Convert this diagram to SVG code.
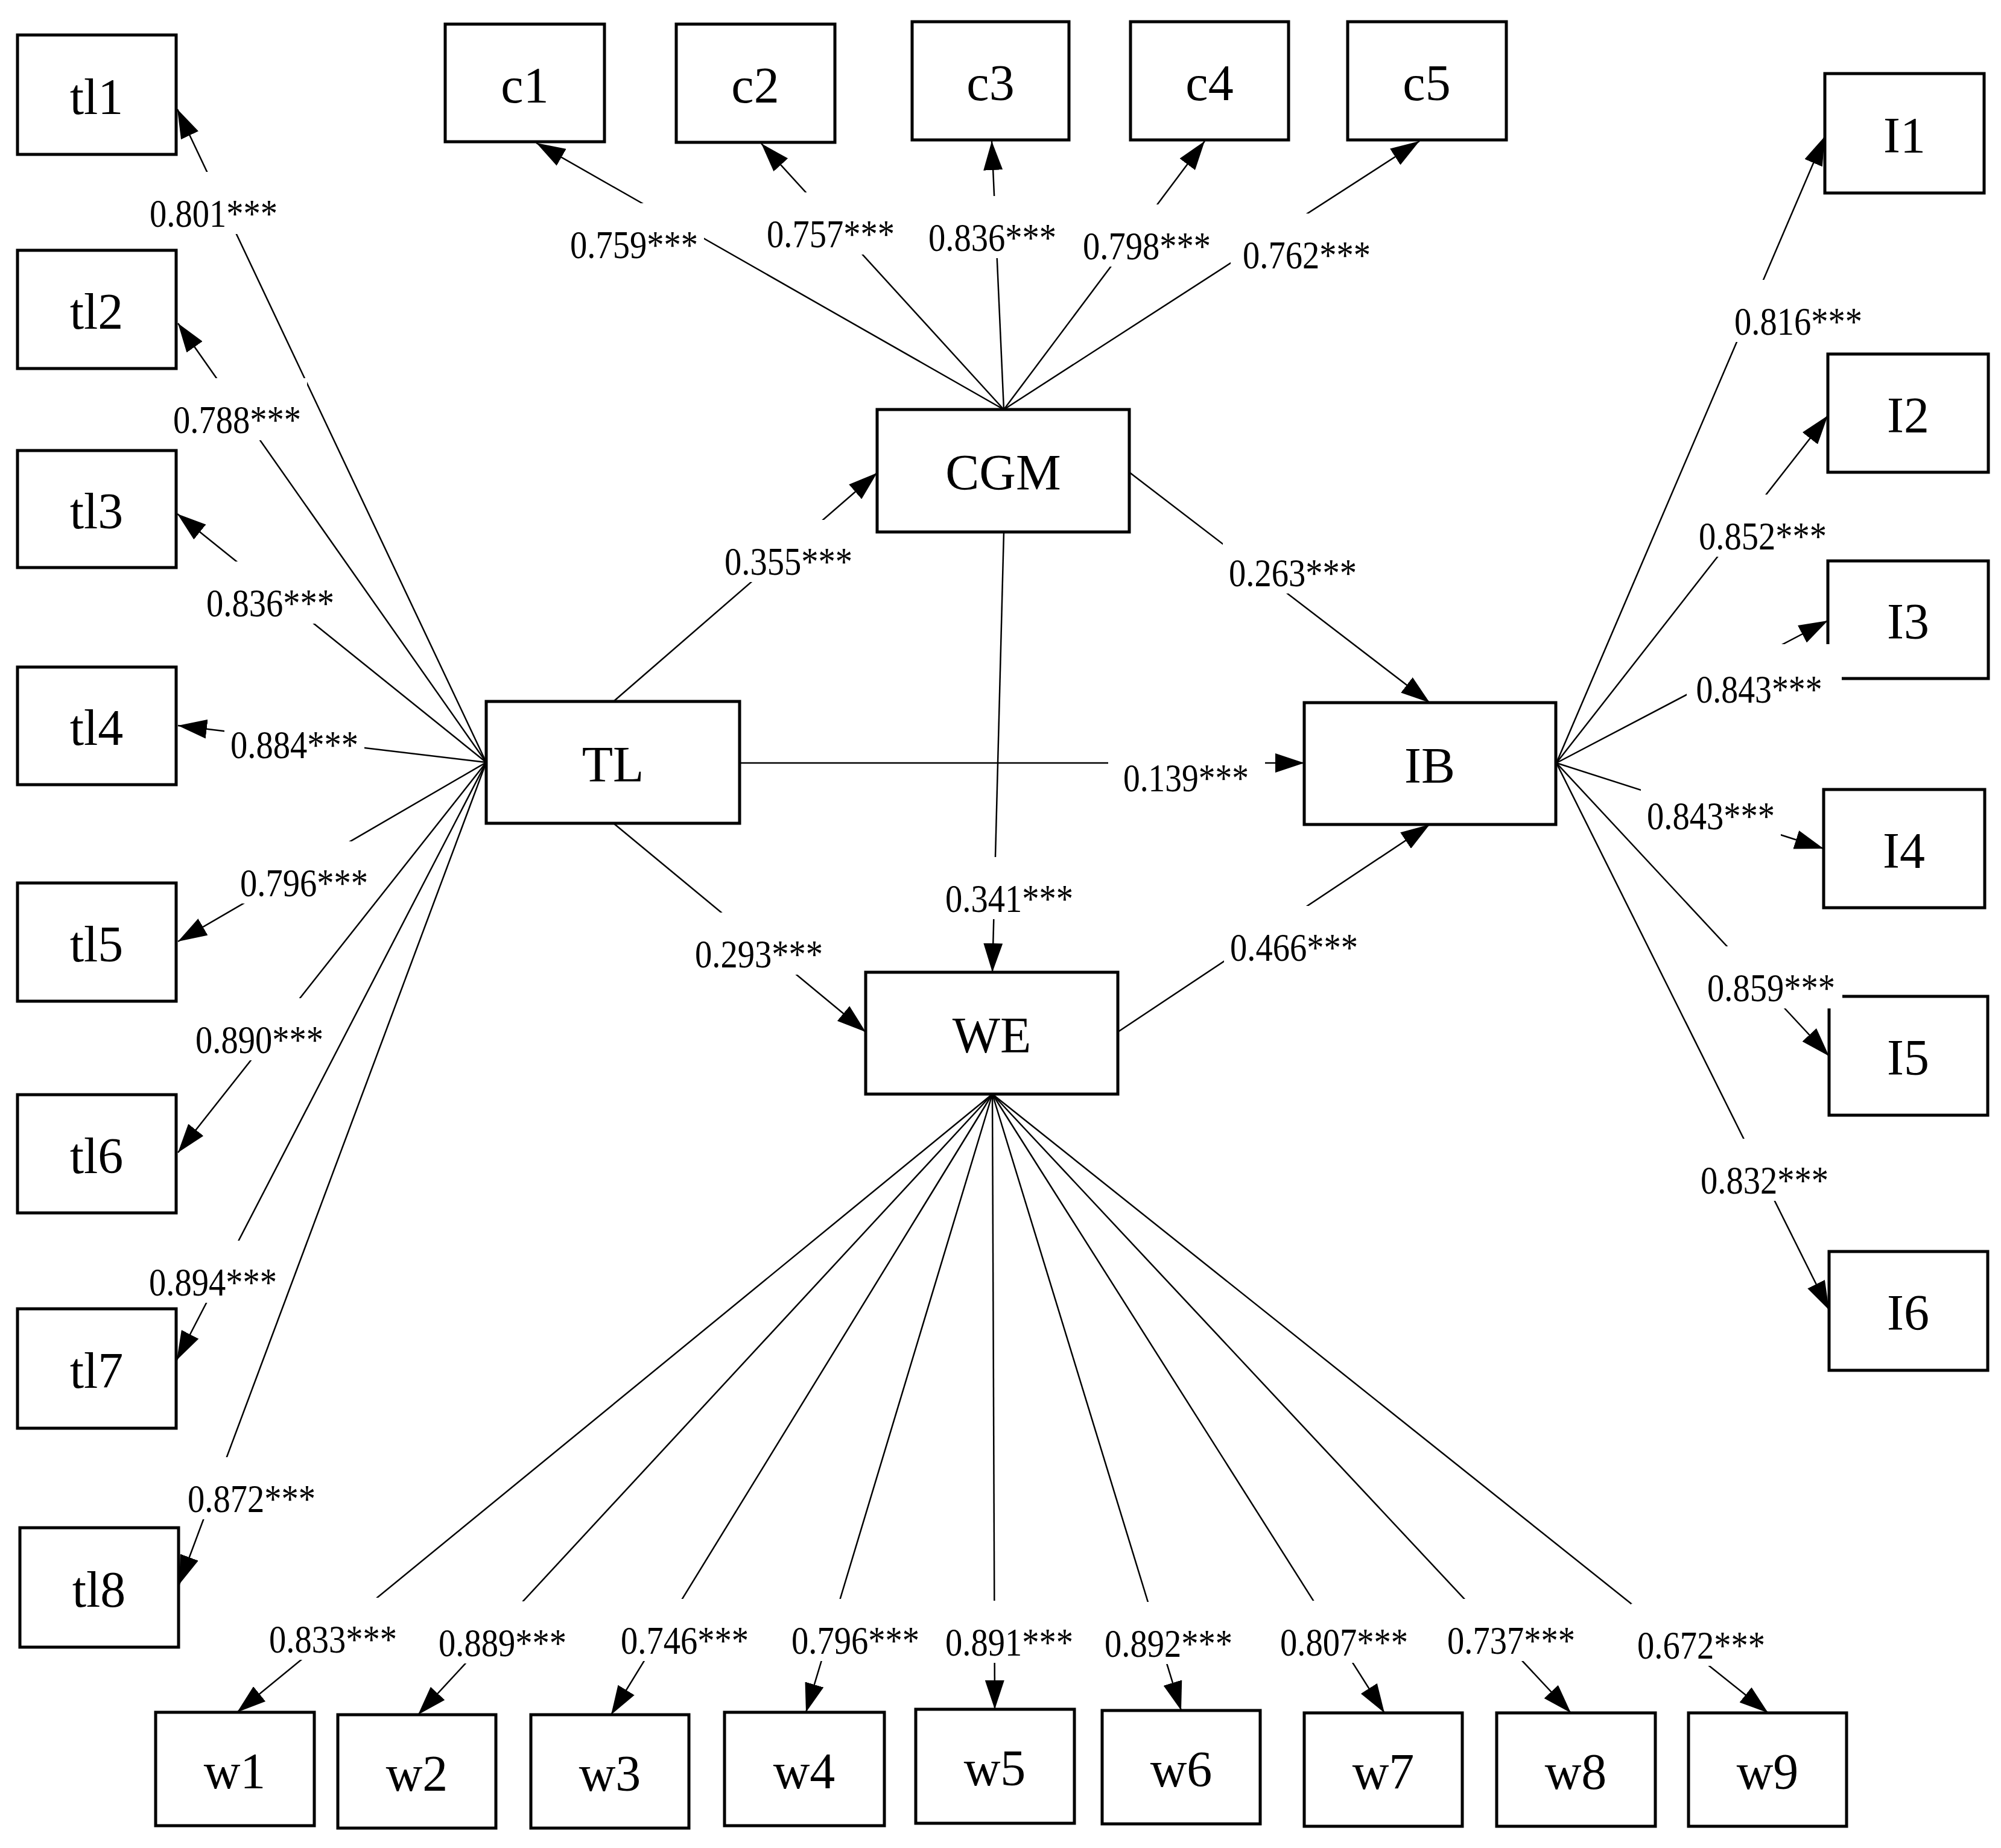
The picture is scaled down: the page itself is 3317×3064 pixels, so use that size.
<svg xmlns="http://www.w3.org/2000/svg" width="3317" height="3064" viewBox="0 0 3317 3064">
<style>
.node rect{fill:#fff;stroke:#000;stroke-width:5}
.node text{font-family:"Liberation Serif","Times New Roman",serif;font-size:84px;text-anchor:middle;fill:#000}
.edge{fill:none;stroke:#000;stroke-width:2.5;marker-end:url(#ah)}
.lbl rect{fill:#fff;stroke:none}
.lbl text{font-family:"Liberation Serif","Times New Roman",serif;font-size:65px;text-anchor:middle;fill:#000}
</style>
<defs>
<marker id="ah" markerUnits="userSpaceOnUse" markerWidth="48" markerHeight="32" refX="48" refY="16" orient="auto" viewBox="0 0 48 32">
<path d="M0,0 L48,16 L0,32 z" fill="#000"/>
</marker>
</defs>
<rect x="0" y="0" width="3317" height="3064" fill="#fff"/>
<g id="connectors">
<path class="edge" d="M806,1264 L294,181"/>
<path class="edge" d="M806,1264 L295,536"/>
<path class="edge" d="M806,1264 L294,852"/>
<path class="edge" d="M806,1264 L295,1203"/>
<path class="edge" d="M806,1264 L295,1561"/>
<path class="edge" d="M806,1264 L295,1911"/>
<path class="edge" d="M806,1264 L293,2255"/>
<path class="edge" d="M806,1264 L297,2627"/>
<path class="edge" d="M1664,679 L889,237"/>
<path class="edge" d="M1664,679 L1262,238"/>
<path class="edge" d="M1664,679 L1644,234"/>
<path class="edge" d="M1664,679 L1997,234"/>
<path class="edge" d="M1664,679 L2353,234"/>
<path class="edge" d="M2580,1265 L3025,226"/>
<path class="edge" d="M2580,1265 L3030,689"/>
<path class="edge" d="M2580,1265 L3030,1029"/>
<path class="edge" d="M2580,1265 L3023,1407"/>
<path class="edge" d="M2580,1265 L3032,1751"/>
<path class="edge" d="M2580,1265 L3032,2172"/>
<path class="edge" d="M1645,1814 L393,2839"/>
<path class="edge" d="M1645,1814 L693,2843"/>
<path class="edge" d="M1645,1814 L1013,2843"/>
<path class="edge" d="M1645,1814 L1336,2839"/>
<path class="edge" d="M1645,1814 L1649,2834"/>
<path class="edge" d="M1645,1814 L1958,2836"/>
<path class="edge" d="M1645,1814 L2295,2840"/>
<path class="edge" d="M1645,1814 L2604,2840"/>
<path class="edge" d="M1645,1814 L2931,2840"/>
<path class="edge" d="M1017,1163 L1454,784"/>
<path class="edge" d="M1872,783 L2370,1165"/>
<path class="edge" d="M1664,882 L1645,1612"/>
<path class="edge" d="M1226,1265 L2162,1265"/>
<path class="edge" d="M1017,1365 L1435,1711"/>
<path class="edge" d="M1853,1711 L2370,1367"/>
</g>
<g id="tl1" class="node"><rect x="29" y="58" width="263" height="198"/><text x="160" y="189">tl1</text></g>
<g id="tl2" class="node"><rect x="29" y="415" width="263" height="196"/><text x="160" y="545">tl2</text></g>
<g id="tl3" class="node"><rect x="29" y="747" width="263" height="194"/><text x="160" y="876">tl3</text></g>
<g id="tl4" class="node"><rect x="29" y="1106" width="263" height="195"/><text x="160" y="1235">tl4</text></g>
<g id="tl5" class="node"><rect x="29" y="1464" width="263" height="196"/><text x="160" y="1594">tl5</text></g>
<g id="tl6" class="node"><rect x="29" y="1815" width="263" height="196"/><text x="160" y="1945">tl6</text></g>
<g id="tl7" class="node"><rect x="29" y="2170" width="263" height="198"/><text x="160" y="2301">tl7</text></g>
<g id="tl8" class="node"><rect x="33" y="2533" width="263" height="198"/><text x="164" y="2664">tl8</text></g>
<g id="c1" class="node"><rect x="738" y="40" width="264" height="195"/><text x="870" y="170">c1</text></g>
<g id="c2" class="node"><rect x="1121" y="40" width="263" height="196"/><text x="1252" y="170">c2</text></g>
<g id="c3" class="node"><rect x="1512" y="36" width="260" height="196"/><text x="1642" y="166">c3</text></g>
<g id="c4" class="node"><rect x="1874" y="36" width="262" height="196"/><text x="2005" y="166">c4</text></g>
<g id="c5" class="node"><rect x="2234" y="36" width="263" height="196"/><text x="2365" y="166">c5</text></g>
<g id="I1" class="node"><rect x="3025" y="122" width="264" height="198"/><text x="3157" y="253">I1</text></g>
<g id="I2" class="node"><rect x="3030" y="587" width="266" height="196"/><text x="3163" y="717">I2</text></g>
<g id="I3" class="node"><rect x="3030" y="930" width="266" height="195"/><text x="3163" y="1059">I3</text></g>
<g id="I4" class="node"><rect x="3023" y="1309" width="267" height="196"/><text x="3156" y="1439">I4</text></g>
<g id="I5" class="node"><rect x="3032" y="1652" width="263" height="197"/><text x="3163" y="1782">I5</text></g>
<g id="I6" class="node"><rect x="3032" y="2075" width="263" height="197"/><text x="3163" y="2205">I6</text></g>
<g id="CGM" class="node"><rect x="1454" y="679" width="418" height="203"/><text x="1663" y="812">CGM</text></g>
<g id="TL" class="node"><rect x="806" y="1163" width="420" height="202"/><text x="1016" y="1296">TL</text></g>
<g id="IB" class="node"><rect x="2162" y="1165" width="417" height="202"/><text x="2370" y="1298">IB</text></g>
<g id="WE" class="node"><rect x="1435" y="1612" width="418" height="202"/><text x="1644" y="1745">WE</text></g>
<g id="w1" class="node"><rect x="258" y="2839" width="263" height="188"/><text x="389" y="2965">w1</text></g>
<g id="w2" class="node"><rect x="560" y="2843" width="262" height="188"/><text x="691" y="2969">w2</text></g>
<g id="w3" class="node"><rect x="880" y="2843" width="262" height="188"/><text x="1011" y="2969">w3</text></g>
<g id="w4" class="node"><rect x="1201" y="2839" width="265" height="188"/><text x="1333" y="2965">w4</text></g>
<g id="w5" class="node"><rect x="1518" y="2834" width="263" height="189"/><text x="1649" y="2960">w5</text></g>
<g id="w6" class="node"><rect x="1827" y="2836" width="262" height="188"/><text x="1958" y="2962">w6</text></g>
<g id="w7" class="node"><rect x="2162" y="2840" width="262" height="188"/><text x="2293" y="2966">w7</text></g>
<g id="w8" class="node"><rect x="2481" y="2840" width="263" height="188"/><text x="2612" y="2966">w8</text></g>
<g id="w9" class="node"><rect x="2799" y="2840" width="262" height="188"/><text x="2930" y="2966">w9</text></g>
<g id="labels">
<g class="lbl"><rect x="238" y="285" width="232" height="103"/><text x="354" y="376" textLength="212" lengthAdjust="spacingAndGlyphs">0.801***</text></g>
<g class="lbl"><rect x="277" y="627" width="232" height="103"/><text x="393" y="718" textLength="212" lengthAdjust="spacingAndGlyphs">0.788***</text></g>
<g class="lbl"><rect x="332" y="931" width="232" height="103"/><text x="448" y="1022" textLength="212" lengthAdjust="spacingAndGlyphs">0.836***</text></g>
<g class="lbl"><rect x="372" y="1166" width="232" height="103"/><text x="488" y="1257" textLength="212" lengthAdjust="spacingAndGlyphs">0.884***</text></g>
<g class="lbl"><rect x="388" y="1395" width="232" height="103"/><text x="504" y="1486" textLength="212" lengthAdjust="spacingAndGlyphs">0.796***</text></g>
<g class="lbl"><rect x="314" y="1655" width="232" height="103"/><text x="430" y="1746" textLength="212" lengthAdjust="spacingAndGlyphs">0.890***</text></g>
<g class="lbl"><rect x="237" y="2057" width="232" height="103"/><text x="353" y="2148" textLength="212" lengthAdjust="spacingAndGlyphs">0.894***</text></g>
<g class="lbl"><rect x="301" y="2416" width="232" height="103"/><text x="417" y="2507" textLength="212" lengthAdjust="spacingAndGlyphs">0.872***</text></g>
<g class="lbl"><rect x="935" y="337" width="232" height="103"/><text x="1051" y="428" textLength="212" lengthAdjust="spacingAndGlyphs">0.759***</text></g>
<g class="lbl"><rect x="1261" y="319" width="232" height="103"/><text x="1377" y="410" textLength="212" lengthAdjust="spacingAndGlyphs">0.757***</text></g>
<g class="lbl"><rect x="1529" y="325" width="232" height="103"/><text x="1645" y="416" textLength="212" lengthAdjust="spacingAndGlyphs">0.836***</text></g>
<g class="lbl"><rect x="1785" y="339" width="232" height="103"/><text x="1901" y="430" textLength="212" lengthAdjust="spacingAndGlyphs">0.798***</text></g>
<g class="lbl"><rect x="2040" y="354" width="232" height="103"/><text x="2166" y="445" textLength="212" lengthAdjust="spacingAndGlyphs">0.762***</text></g>
<g class="lbl"><rect x="1191" y="862" width="232" height="103"/><text x="1307" y="953" textLength="212" lengthAdjust="spacingAndGlyphs">0.355***</text></g>
<g class="lbl"><rect x="2027" y="881" width="232" height="103"/><text x="2143" y="972" textLength="212" lengthAdjust="spacingAndGlyphs">0.263***</text></g>
<g class="lbl"><rect x="1557" y="1421" width="232" height="103"/><text x="1673" y="1512" textLength="212" lengthAdjust="spacingAndGlyphs">0.341***</text></g>
<g class="lbl"><rect x="1837" y="1225" width="260" height="100"/><text x="1966" y="1312" textLength="208" lengthAdjust="spacingAndGlyphs">0.139***</text></g>
<g class="lbl"><rect x="1142" y="1513" width="232" height="103"/><text x="1258" y="1604" textLength="212" lengthAdjust="spacingAndGlyphs">0.293***</text></g>
<g class="lbl"><rect x="2029" y="1502" width="232" height="103"/><text x="2145" y="1593" textLength="212" lengthAdjust="spacingAndGlyphs">0.466***</text></g>
<g class="lbl"><rect x="2865" y="464" width="232" height="103"/><text x="2981" y="555" textLength="212" lengthAdjust="spacingAndGlyphs">0.816***</text></g>
<g class="lbl"><rect x="2806" y="820" width="232" height="103"/><text x="2922" y="911" textLength="212" lengthAdjust="spacingAndGlyphs">0.852***</text></g>
<g class="lbl"><rect x="2796" y="1068" width="257" height="107"/><text x="2916" y="1165" textLength="209" lengthAdjust="spacingAndGlyphs">0.843***</text></g>
<g class="lbl"><rect x="2720" y="1284" width="232" height="103"/><text x="2836" y="1375" textLength="212" lengthAdjust="spacingAndGlyphs">0.843***</text></g>
<g class="lbl"><rect x="2820" y="1569" width="234" height="103"/><text x="2936" y="1660" textLength="212" lengthAdjust="spacingAndGlyphs">0.859***</text></g>
<g class="lbl"><rect x="2809" y="1888" width="232" height="103"/><text x="2925" y="1979" textLength="212" lengthAdjust="spacingAndGlyphs">0.832***</text></g>
<g class="lbl"><rect x="436" y="2649" width="232" height="103"/><text x="552" y="2740" textLength="212" lengthAdjust="spacingAndGlyphs">0.833***</text></g>
<g class="lbl"><rect x="717" y="2655" width="232" height="103"/><text x="833" y="2746" textLength="212" lengthAdjust="spacingAndGlyphs">0.889***</text></g>
<g class="lbl"><rect x="1019" y="2651" width="232" height="103"/><text x="1135" y="2742" textLength="212" lengthAdjust="spacingAndGlyphs">0.746***</text></g>
<g class="lbl"><rect x="1302" y="2651" width="232" height="103"/><text x="1418" y="2742" textLength="212" lengthAdjust="spacingAndGlyphs">0.796***</text></g>
<g class="lbl"><rect x="1557" y="2654" width="232" height="103"/><text x="1673" y="2745" textLength="212" lengthAdjust="spacingAndGlyphs">0.891***</text></g>
<g class="lbl"><rect x="1821" y="2656" width="232" height="103"/><text x="1937" y="2747" textLength="212" lengthAdjust="spacingAndGlyphs">0.892***</text></g>
<g class="lbl"><rect x="2112" y="2654" width="232" height="103"/><text x="2228" y="2745" textLength="212" lengthAdjust="spacingAndGlyphs">0.807***</text></g>
<g class="lbl"><rect x="2389" y="2651" width="232" height="103"/><text x="2505" y="2742" textLength="212" lengthAdjust="spacingAndGlyphs">0.737***</text></g>
<g class="lbl"><rect x="2704" y="2659" width="232" height="103"/><text x="2820" y="2750" textLength="212" lengthAdjust="spacingAndGlyphs">0.672***</text></g>
</g>
</svg>
